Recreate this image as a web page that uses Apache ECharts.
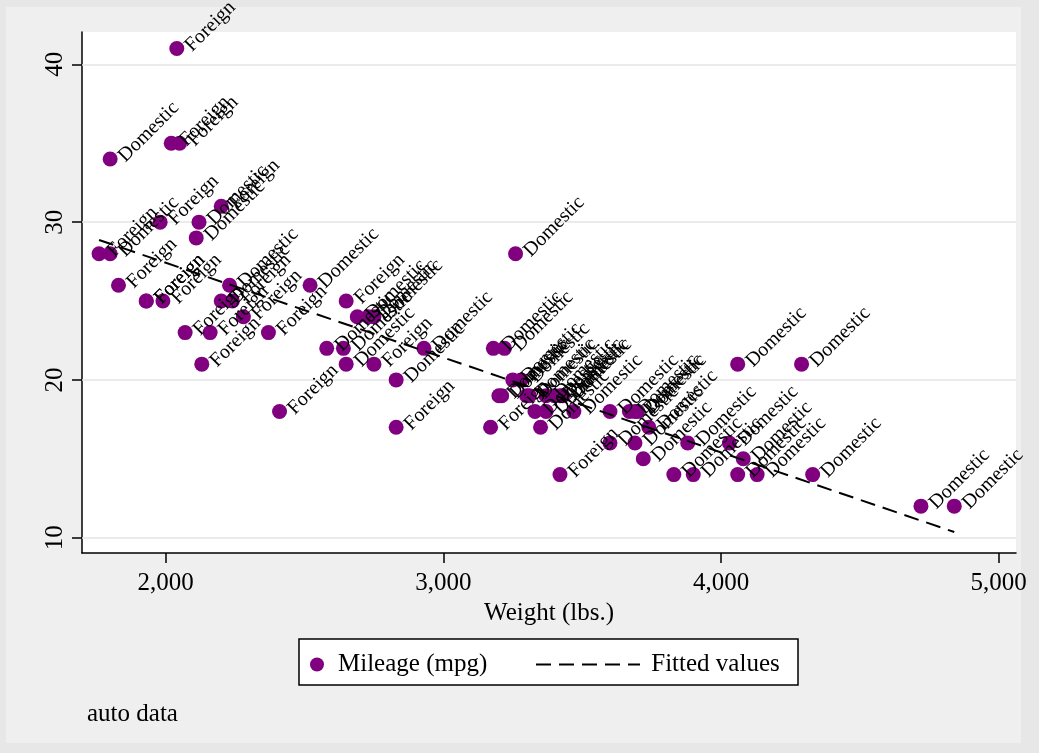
<!DOCTYPE html>
<html><head><meta charset="utf-8">
<script src="https://cdn.jsdelivr.net/npm/echarts@6/dist/echarts.min.js"></script>
<style>html,body{margin:0;padding:0;background:#efefef;} #c{width:1039px;height:753px;}</style>
</head><body><div id="c"></div>
<script>
// auto data: weight (lbs.), mileage (mpg), car origin
const weight = [2930,3350,2640,3250,4080,3670,2230,3280,3880,3400,4330,3900,4290,2110,3690,3180,3220,2750,3430,2120,3600,3600,3740,1800,2650,4840,4720,3830,2580,4060,3720,3370,4130,2830,4060,3310,3300,3690,3370,2730,4030,3260,1800,2200,2520,3330,3700,3470,3210,3200,3420,2690,2830,2070,2650,2370,2020,2280,2750,2130,2240,1760,1980,3420,1830,2050,2410,2200,1930,2160,2040,1930,1990,3170];
const mpg = [22,17,22,20,15,18,26,20,16,19,14,14,21,29,16,22,22,24,19,30,18,16,17,28,21,12,12,14,22,14,15,18,14,20,21,19,19,18,19,24,16,28,34,25,26,18,18,18,19,19,19,24,17,23,25,23,35,24,21,21,25,28,30,14,26,35,18,31,25,23,41,25,25,17];
const origin = ['Domestic','Domestic','Domestic','Domestic','Domestic','Domestic','Domestic','Domestic','Domestic','Domestic',
 'Domestic','Domestic','Domestic','Domestic','Domestic','Domestic','Domestic','Domestic','Domestic','Domestic',
 'Domestic','Domestic','Domestic','Domestic','Domestic','Domestic','Domestic','Domestic','Domestic','Domestic',
 'Domestic','Domestic','Domestic','Domestic','Domestic','Domestic','Domestic','Domestic','Domestic','Domestic',
 'Domestic','Domestic','Domestic','Domestic','Domestic','Domestic','Domestic','Domestic','Domestic','Domestic',
 'Domestic','Domestic',
 'Foreign','Foreign','Foreign','Foreign','Foreign','Foreign','Foreign','Foreign','Foreign','Foreign',
 'Foreign','Foreign','Foreign','Foreign','Foreign','Foreign','Foreign','Foreign','Foreign','Foreign',
 'Foreign','Foreign'];
// fitted values (linear fit), read at the line's two ends
const fittedWeight = [1760, 4840];
const fittedMpg = [28.87, 10.36];
const xTicks = [2000, 3000, 4000, 5000];
const yTicks = [10, 20, 30, 40];
const seriesNames = ['Mileage (mpg)', 'Fitted values'];
const noteText = 'auto data';
const xTitle = 'Weight (lbs.)';

const FONT = "'Liberation Serif', 'Times New Roman', serif";
const chart = echarts.init(document.getElementById('c'), null, {renderer: 'canvas'});
const scatterData = weight.map((w, i) => [w, mpg[i], origin[i]]);
const fitData = fittedWeight.map((w, i) => [w, fittedMpg[i]]);
const EDGE = '#e7e7e7';

chart.setOption({
  animation: false,
  backgroundColor: '#efefef',
  textStyle: {fontFamily: FONT},
  graphic: [
    {type: 'rect', silent: true, shape: {x: 0, y: 0, width: 6, height: 753}, style: {fill: EDGE}},
    {type: 'rect', silent: true, shape: {x: 0, y: 0, width: 1039, height: 7}, style: {fill: EDGE}},
    {type: 'rect', silent: true, shape: {x: 1021, y: 0, width: 18, height: 753}, style: {fill: EDGE}},
    {type: 'rect', silent: true, shape: {x: 0, y: 743, width: 1039, height: 10}, style: {fill: EDGE}},
    {type: 'rect', z: 1, silent: true, shape: {x: 299, y: 639, width: 499, height: 46}, style: {fill: '#ffffff', stroke: '#000', lineWidth: 1.5}},
    {type: 'text', z: 2, silent: true, style: {text: noteText, x: 87, y: 714, font: '25px ' + FONT, fill: '#000', verticalAlign: 'middle', align: 'left'}}
  ],
  grid: {left: 82, right: 23, top: 32, bottom: 200, show: true, backgroundColor: '#ffffff', borderWidth: 0},
  xAxis: {
    type: 'value', min: 1698.6, max: 5062.3,
    name: xTitle, nameLocation: 'middle', nameGap: 46,
    nameTextStyle: {fontFamily: FONT, fontSize: 25, color: '#000'},
    axisLine: {show: true, onZero: false, lineStyle: {color: '#000', width: 1.5}},
    axisTick: {show: true, length: 10, customValues: xTicks, lineStyle: {color: '#000', width: 1.5}},
    axisLabel: {customValues: xTicks, margin: 18, fontFamily: FONT, fontSize: 25, color: '#000',
      formatter: v => Number(v).toLocaleString('en-US')},
    splitLine: {show: false}
  },
  yAxis: {
    type: 'value', min: 9.03, max: 42.05,
    axisLine: {show: true, onZero: false, lineStyle: {color: '#000', width: 1.5}},
    axisTick: {show: true, length: 10, customValues: yTicks, lineStyle: {color: '#000', width: 1.5}},
    axisLabel: {customValues: yTicks, rotate: 90, margin: 14, fontFamily: FONT, fontSize: 25, color: '#000'},
    splitLine: {show: false}
  },
  legend: [
    {data: [seriesNames[0]], left: 310, top: 652, padding: 0, itemWidth: 32, itemHeight: 14, z: 5,
     textStyle: {fontFamily: FONT, fontSize: 25, color: '#000'}},
    {data: [seriesNames[1]], left: 535, top: 652, padding: 0, itemWidth: 104, itemHeight: 14, z: 5,
     formatter: n => ' ' + n,
     itemStyle: {color: 'rgba(0,0,0,0)', borderWidth: 0, borderColor: 'rgba(0,0,0,0)'},
     textStyle: {fontFamily: FONT, fontSize: 25, color: '#000'}}
  ],
  series: [
    {
      name: 'grid', type: 'line', data: [], z: 1, silent: true,
      markLine: {z: 1, silent: true, symbol: 'none', label: {show: false},
        lineStyle: {color: '#e4e4e4', width: 1.5, type: 'solid'},
        data: yTicks.map(v => ({yAxis: v}))}
    },
    {
      name: seriesNames[0], type: 'scatter', data: scatterData, z: 2,
      symbol: 'circle', symbolSize: 15,
      itemStyle: {color: '#800080', opacity: 1},
      label: {show: true, position: 'right', distance: 4, rotate: 45,
        formatter: p => p.data[2], fontFamily: FONT, fontSize: 20, color: '#000'},
      labelLayout: {hideOverlap: false},
      emphasis: {disabled: true}
    },
    {
      name: seriesNames[1], type: 'line', data: fitData, z: 3,
      symbol: 'none', showSymbol: false,
      lineStyle: {color: '#000', width: 2, type: [15, 8]},
      itemStyle: {color: '#000'},
      emphasis: {disabled: true}
    }
  ]
});
</script></body></html>
